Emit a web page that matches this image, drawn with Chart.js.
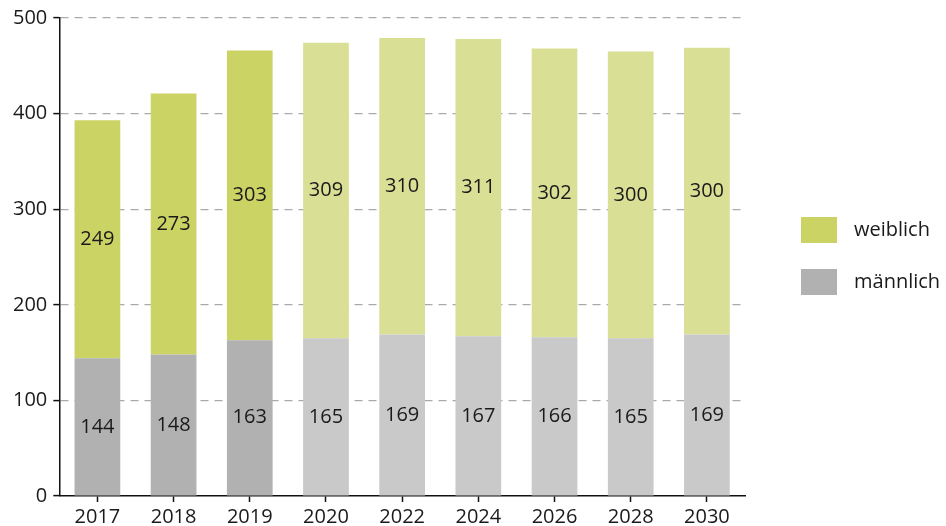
<!DOCTYPE html>
<html>
<head>
<meta charset="utf-8">
<script src="https://cdn.jsdelivr.net/npm/chart.js@4.4.1/dist/chart.umd.min.js"></script>
<style>
  html, body { margin: 0; padding: 0; background: #fff; }
  #wrap { width: 946px; height: 526px; }
</style>
</head>
<body>
<div id="wrap"><canvas id="chart" width="946" height="526"></canvas></div>
<script>
// data
var years = ['2017', '2018', '2019', '2020', '2022', '2024', '2026', '2028', '2030']
var maennlich = [144, 148, 163, 165, 169, 167, 166, 165, 169]
var weiblich = [249, 273, 303, 309, 310, 311, 302, 300, 300]
var isForecast = [false, false, false, true, true, true, true, true, true]
var yTicks = [0, 100, 200, 300, 400, 500]

var fontName = '"Open Sans", "Noto Sans", sans-serif'
var textColor = '#1a1a1a'

function colorsFor(real, forecast) {
    return isForecast.map(function (f) { return f ? forecast : real })
}

// values in the middle of each segment
var segmentLabels = {
    id: 'segmentLabels',
    afterDatasetsDraw: function (chart) {
        var ctx = chart.ctx
        ctx.save()
        ctx.font = '20px ' + fontName
        ctx.fillStyle = textColor
        ctx.textAlign = 'center'
        ctx.textBaseline = 'middle'
        chart.data.datasets.forEach(function (ds, i) {
            var meta = chart.getDatasetMeta(i)
            meta.data.forEach(function (bar, j) {
                var mid = (bar.y + bar.base) / 2
                ctx.fillText(ds.data[j], bar.x, mid)
            })
        })
        ctx.restore()
    }
}

// legend on the right, weiblich on top (uses the real-year colours)
var sideLegend = {
    id: 'sideLegend',
    afterDraw: function (chart) {
        var ctx = chart.ctx
        var left = 801
        var top = 217
        ctx.save()
        ctx.font = '20px ' + fontName
        ctx.textBaseline = 'middle'
        var items = chart.data.datasets.slice().reverse()
        items.forEach(function (ds, k) {
            var y = top + k * 52
            ctx.fillStyle = ds.backgroundColor[0]
            ctx.fillRect(left, y, 36, 26)
            ctx.fillStyle = textColor
            ctx.fillText(ds.label, left + 53, y + 13)
        })
        ctx.restore()
    }
}

var ctx = document.getElementById('chart').getContext('2d')
var myChart = new Chart(ctx, {
    type: 'bar',
    data: {
        labels: years,
        datasets: [{
            label: 'männlich',
            data: maennlich,
            backgroundColor: colorsFor('#b1b1b2', '#c8c9c8'),
            barPercentage: 0.6,
            categoryPercentage: 1
        }, {
            label: 'weiblich',
            data: weiblich,
            backgroundColor: colorsFor('#cbd365', '#d9df94'),
            barPercentage: 0.6,
            categoryPercentage: 1
        }]
    },
    options: {
        responsive: false,
        animation: false,
        layout: { padding: { top: 8, right: 201, left: 7, bottom: -6 } },
        plugins: {
            legend: { display: false },
            tooltip: { enabled: false }
        },
        scales: {
            x: {
                stacked: true,
                border: { color: '#111', width: 1.5 },
                grid: {
                    offset: false,
                    drawOnChartArea: false,
                    drawTicks: true,
                    tickLength: 6,
                    tickColor: '#111',
                    tickWidth: 1.5
                },
                ticks: {
                    color: textColor,
                    padding: 5,
                    font: { family: fontName, size: 20, lineHeight: 1 }
                }
            },
            y: {
                stacked: true,
                min: 0,
                max: 500,
                z: 1,
                afterBuildTicks: function (axis) {
                    axis.ticks = yTicks.map(function (v) { return { value: v } })
                },
                border: { color: '#111', width: 1.5, dash: [8, 6] },
                grid: {
                    color: function (c) { return c.tick && c.tick.value === 0 ? 'rgba(0,0,0,0)' : '#aaaaaa' },
                    lineWidth: 1.2,
                    tickLength: 6,
                    tickColor: '#111',
                    tickWidth: 1.5,
                    tickBorderDash: []
                },
                ticks: {
                    color: textColor,
                    padding: 6,
                    font: { family: fontName, size: 20 }
                }
            }
        }
    },
    plugins: [segmentLabels, sideLegend]
})
</script>
</body>
</html>
